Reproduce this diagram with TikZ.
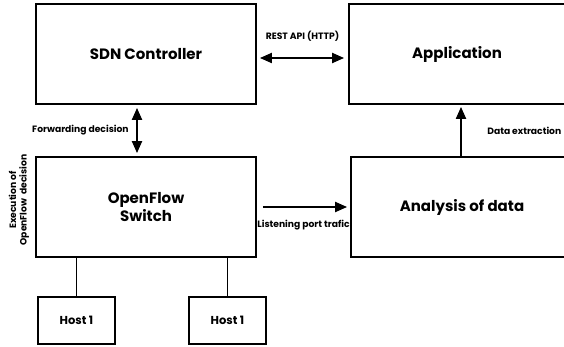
\documentclass[tikz,border=0pt]{standalone}
\usepackage{fontspec}
\setmainfont{Poppins}
\usetikzlibrary{positioning, arrows.meta}

\begin{document}
\begin{tikzpicture}[x=1pt, y=-1pt,
    box/.style={draw=black, line width=1.8pt, minimum width=220pt, minimum height=100pt, align=center, font=\bfseries\fontsize{15}{18}\selectfont},
    hostbox/.style={draw=black, line width=1.8pt, minimum width=77pt, minimum height=47pt, font=\bfseries\fontsize{11.5}{13}\selectfont},
    arrow/.style={-{Triangle[length=12pt, width=10pt]}, line width=2pt},
    dblarrow/.style={{Triangle[length=12pt, width=10pt]}-{Triangle[length=12pt, width=10pt]}, line width=2pt},
    lbl/.style={font=\bfseries\fontsize{9.2}{10.5}\selectfont, align=center}
]
    \useasboundingbox (0,0) rectangle (564,347);
    \clip (0,0) rectangle (564,347);

    \node[box] (ctrl) at (146, 54) {SDN Controller};
    \node[box, minimum width=216pt] (app) at (457, 54) {Application};
    \node[box] (switch) at (146, 207) {OpenFlow\\Switch};
    \node[box, minimum width=222pt] (analysis) at (462, 207) {Analysis of data};
    \node[hostbox] (host1) at (76.5, 320.5) {Host 1};
    \node[hostbox] (host2) at (227.5, 320.5) {Host 1};
    \node[lbl, rotate=90] (exec) at (19, 200) {Execution of\\OpenFlow\ \ decision};

    \draw[dblarrow, shorten <=3pt, shorten >=4pt] ([yshift=-4pt] ctrl.east) -- node[lbl, above=12pt] {REST API (HTTP)} ([yshift=-4pt] app.west);
    \draw[dblarrow, shorten <=3pt, shorten >=3pt] ([xshift=-9pt] ctrl.south) -- node[lbl, left=4pt] {Forwarding decision} ([xshift=-9pt] switch.north);
    \draw[arrow, shorten >=2pt] ([xshift=-1pt] analysis.north) -- node[lbl, right=22pt] {Data extraction} ([xshift=-1pt] analysis.north |- app.south);
    \draw[arrow, shorten <=6pt, shorten >=3pt] (switch.east) -- node[lbl, below=9pt] {Listening port trafic} (analysis.west);
    \draw[line width=1.8pt] (host1.north) -- (host1.north |- switch.south);
    \draw[line width=1.8pt] (host2.north) -- (host2.north |- switch.south);

\end{tikzpicture}
\end{document}
